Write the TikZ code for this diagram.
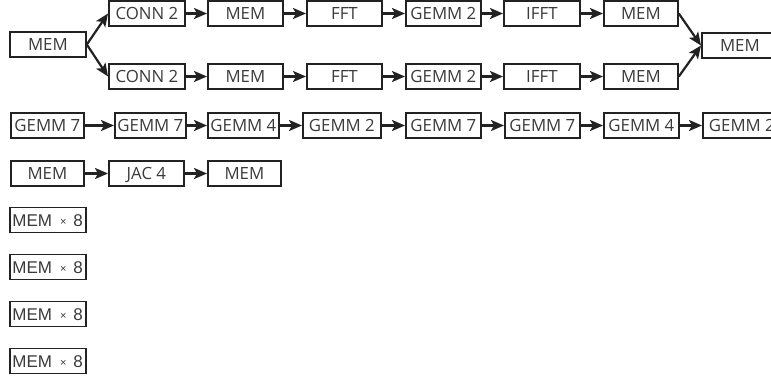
\documentclass[tikz,border=0pt]{standalone}
\usepackage{fontspec}
\setmainfont{Open Sans}
\newfontfamily\arialf{Liberation Sans}
\usetikzlibrary{arrows.meta}
\definecolor{txt}{HTML}{3A3A3A}
\definecolor{ln}{HTML}{222222}
\tikzset{
  bx/.style={draw=ln, line width=1.8pt, fill=white, anchor=west, minimum height=25pt,
    inner sep=0pt, text=txt, font=\fontsize{16.8}{18}\selectfont, minimum width=#1pt,
    text height=12pt, text depth=0pt},
  bx/.default=75,
  mx/.style={bx=76, font=\arialf\fontsize{17}{18}\selectfont},
  arr/.style={draw=ln, line width=2.2pt, -{Stealth[length=13pt,width=11pt,inset=3pt]}}
}
\newcommand{\tms}{\makebox[71pt][l]{MEM\hspace{8pt}{\fontsize{11}{11}\selectfont\raisebox{1pt}{×}}\hspace{7pt}8}}
\begin{document}
\begin{tikzpicture}[x=1pt,y=1pt]
\useasboundingbox (0,0) rectangle (771,-380);
\begin{scope}
\clip (0,0) rectangle (771,-380);
% row 1 and 2
\node[bx=76] (m0) at (9,-44.5) {MEM};
\node[bx=76] (c1) at (108,-13.5) {CONN 2};
\node[bx=75] (a1) at (207,-13.5) {MEM};
\node[bx=75] (f1) at (306,-13.5) {FFT};
\node[bx=75] (g1) at (405,-13.5) {GEMM 2};
\node[bx=76] (i1) at (503,-13.5) {IFFT};
\node[bx=74] (b1) at (603,-13.5) {MEM};
\node[bx=76] (c2) at (108,-76.5) {CONN 2};
\node[bx=75] (a2) at (207,-76.5) {MEM};
\node[bx=75] (f2) at (306,-76.5) {FFT};
\node[bx=75] (g2) at (405,-76.5) {GEMM 2};
\node[bx=76] (i2) at (503,-76.5) {IFFT};
\node[bx=74] (b2) at (603,-76.5) {MEM};
\node[bx=76] (mf) at (701,-45.5) {MEM};
% row 3
\node[bx=73] (r1) at (10,-125.5) {GEMM 7};
\node[bx=71] (r2) at (114,-125.5) {GEMM 7};
\node[bx=71] (r3) at (207,-125.5) {GEMM 4};
\node[bx=78] (r4) at (302,-125.5) {GEMM 2};
\node[bx=75] (r5) at (405,-125.5) {GEMM 7};
\node[bx=75] (r6) at (504,-125.5) {GEMM 7};
\node[bx=75] (r7) at (603,-125.5) {GEMM 4};
\node[bx=78] (r8) at (702,-125.5) {GEMM 2};
% row 4
\node[bx=73] (j1) at (10,-173.5) {MEM};
\node[bx=75] (j2) at (108,-173.5) {JAC 4};
\node[bx=73] (j3) at (207,-173.5) {MEM};
% rows 5-8
\node[mx] (x1) at (9,-220) {\tms};
\node[mx] (x2) at (9,-267) {\tms};
\node[mx] (x3) at (9,-314) {\tms};
\node[mx] (x4) at (9,-361) {\tms};
% arrows
\draw[arr] (m0.east) -- (c1.west);
\draw[arr] (m0.east) -- (c2.west);
\draw[arr] (c1) -- (a1);
\draw[arr] (a1) -- (f1);
\draw[arr] (f1) -- (g1);
\draw[arr] (g1) -- (i1);
\draw[arr] (i1) -- (b1);
\draw[arr] (c2) -- (a2);
\draw[arr] (a2) -- (f2);
\draw[arr] (f2) -- (g2);
\draw[arr] (g2) -- (i2);
\draw[arr] (i2) -- (b2);
\draw[arr] (b1.east) -- (mf.west);
\draw[arr] (b2.east) -- (mf.west);
\draw[arr] (r1) -- (r2);
\draw[arr] (r2) -- (r3);
\draw[arr] (r3) -- (r4);
\draw[arr] (r4) -- (r5);
\draw[arr] (r5) -- (r6);
\draw[arr] (r6) -- (r7);
\draw[arr] (r7) -- (r8);
\draw[arr] (j1) -- (j2);
\draw[arr] (j2) -- (j3);
\end{scope}
\end{tikzpicture}
\end{document}
